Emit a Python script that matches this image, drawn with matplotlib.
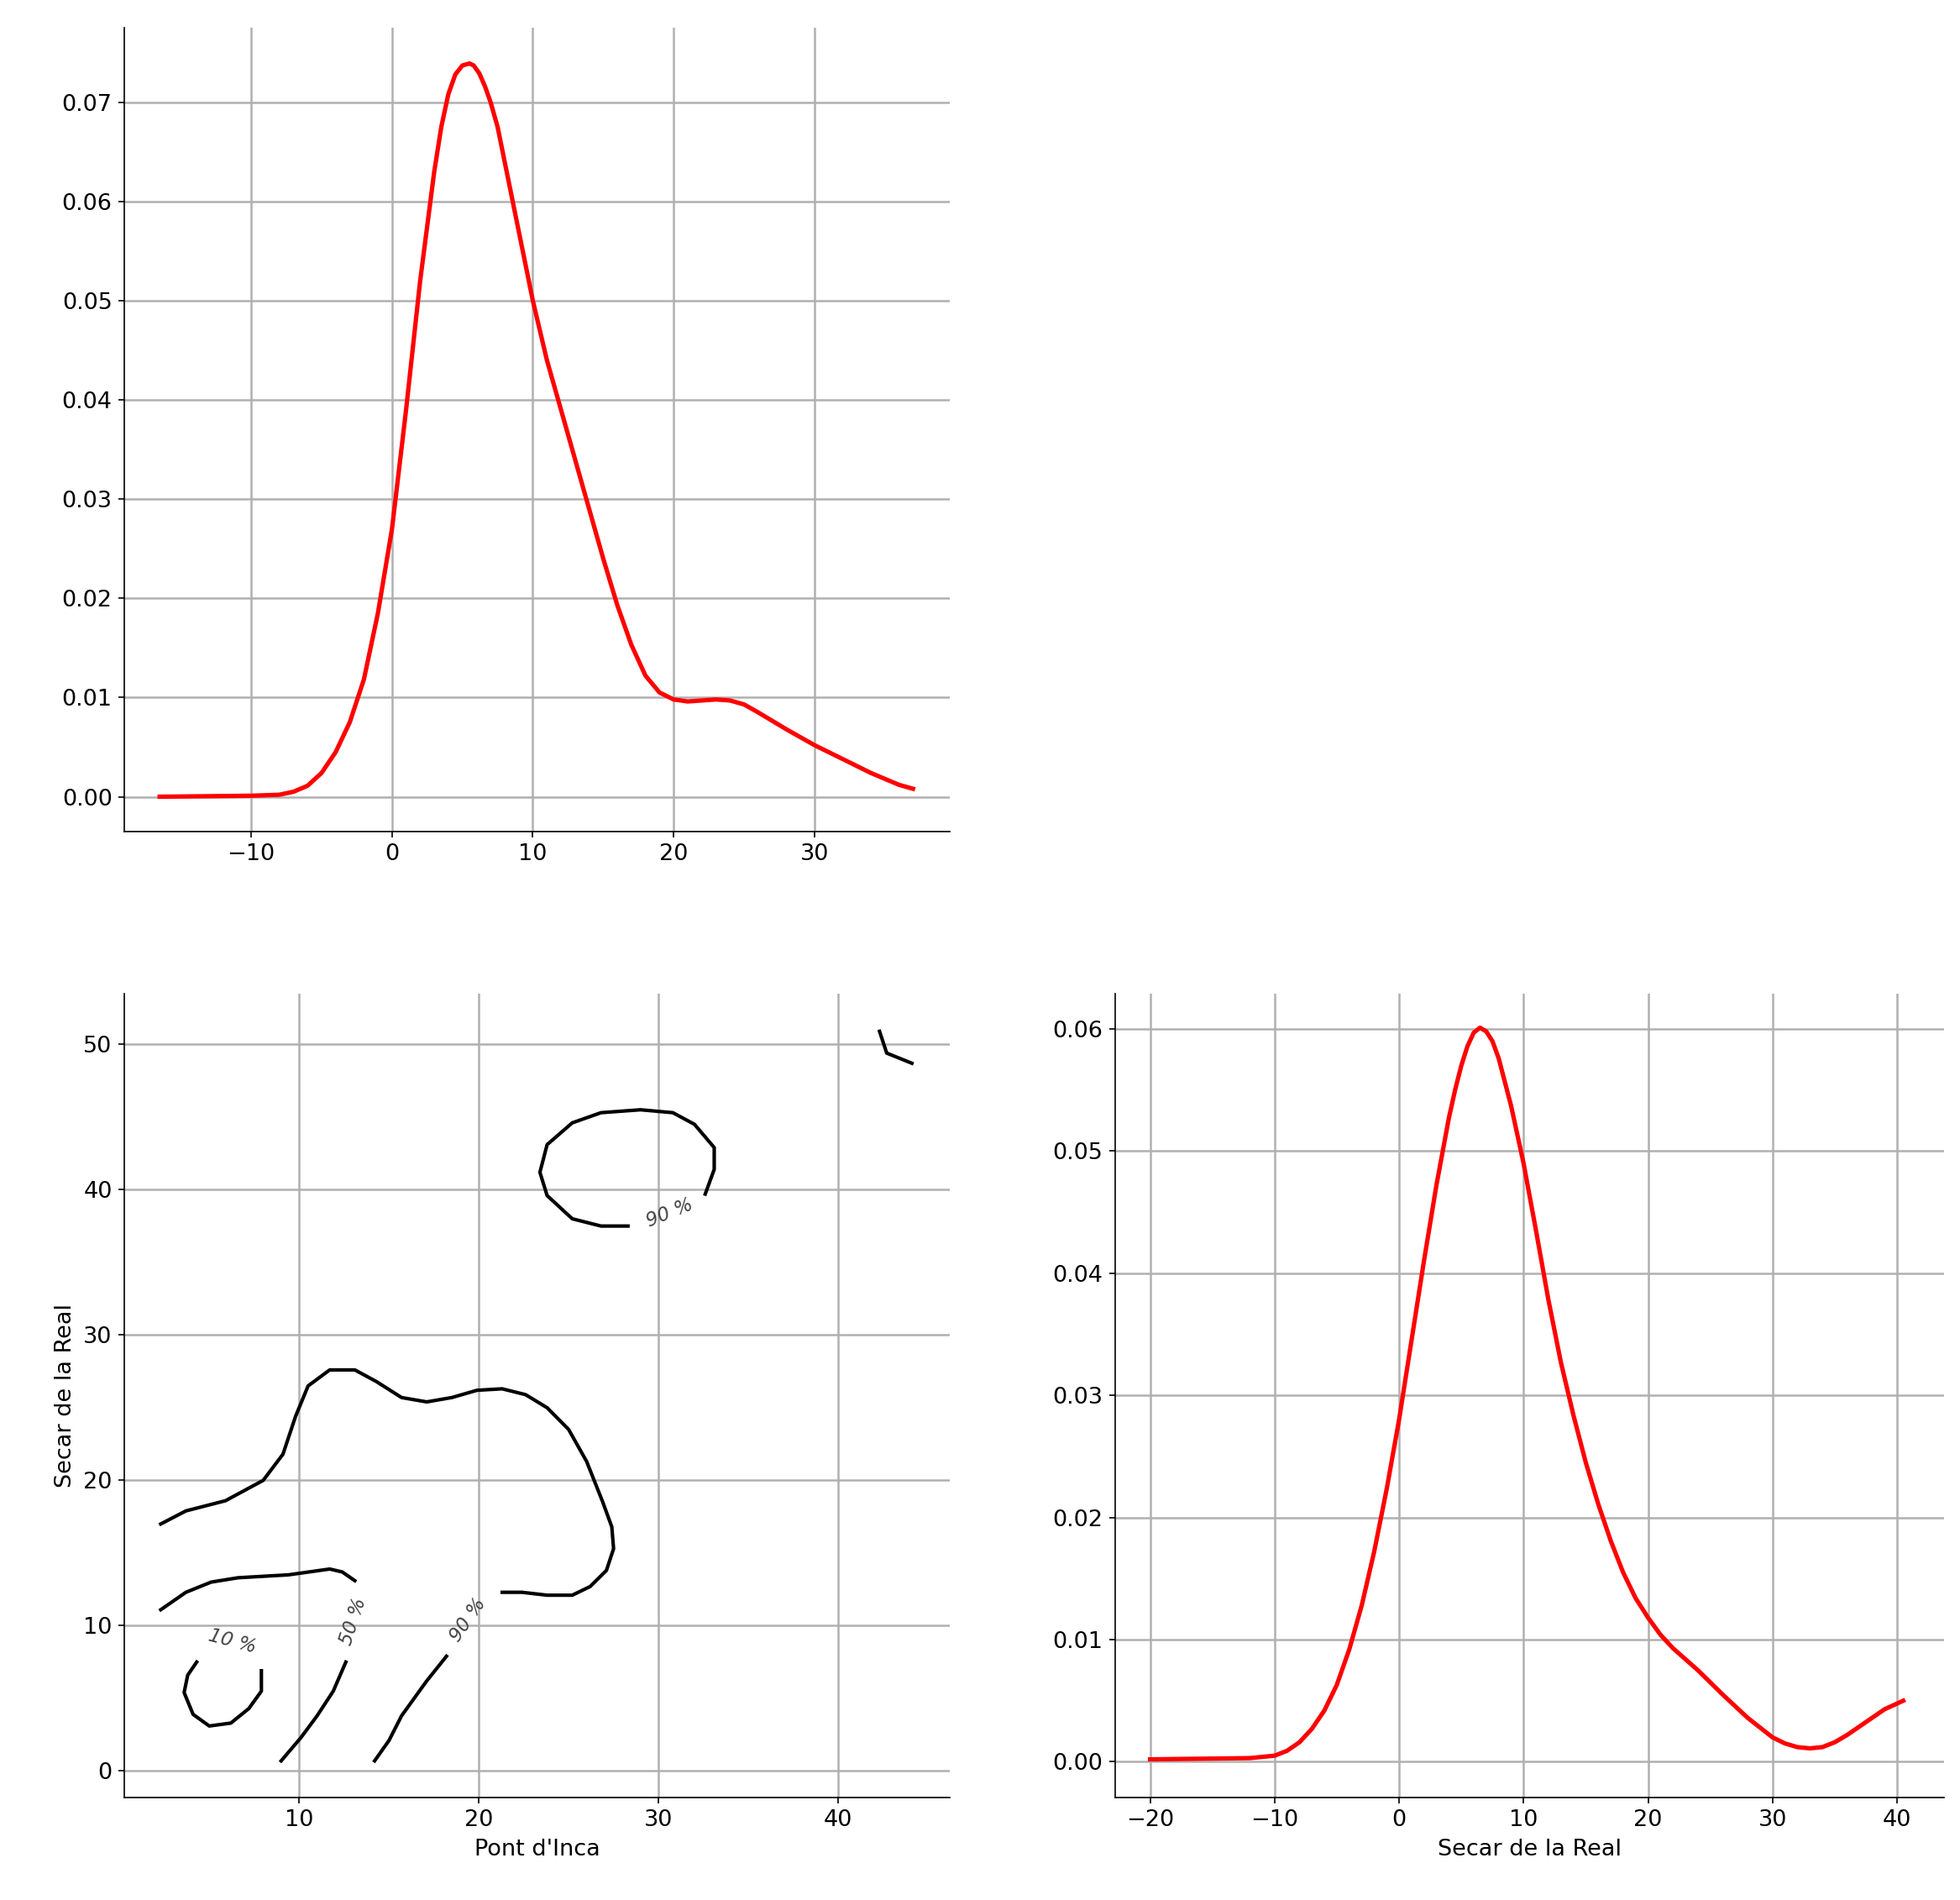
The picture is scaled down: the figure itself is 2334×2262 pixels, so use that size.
import matplotlib
matplotlib.use("Agg")
import matplotlib.pyplot as plt

# marginal density of Pont d'Inca
inca_x = [-16.5, -10, -8, -7, -6, -5, -4, -3, -2, -1, 0, 1, 2, 3, 3.5, 4, 4.5, 5, 5.5, 5.8, 6.2, 6.6,
          7, 7.5, 8, 9, 10, 11, 12, 13, 14, 15, 16, 17, 18, 19, 20, 21, 22, 23, 24, 25, 26, 28, 30, 32,
          34, 36, 37]
inca_y = [0, 0.0001, 0.0002, 0.0005, 0.0011, 0.0024, 0.0045, 0.0075, 0.0118, 0.0185, 0.027, 0.039,
          0.052, 0.063, 0.0675, 0.0708, 0.0728, 0.0737, 0.0739, 0.0737, 0.0729, 0.0716, 0.070,
          0.0675, 0.064, 0.057, 0.050, 0.0440, 0.0390, 0.0340, 0.0290, 0.0240, 0.0193, 0.0153,
          0.0122, 0.0105, 0.0098, 0.0096, 0.0097, 0.0098, 0.0097, 0.0093, 0.0085, 0.0068, 0.0052,
          0.0038, 0.0024, 0.0012, 0.0008]

# marginal density of Secar de la Real
secar_x = [-20, -12, -10, -9, -8, -7, -6, -5, -4, -3, -2, -1, 0, 1, 2, 3, 4, 4.5, 5, 5.5, 6, 6.5, 7,
           7.5, 8, 9, 10, 11, 12, 13, 14, 15, 16, 17, 18, 19, 20, 21, 22, 24, 26, 28, 30, 31, 32,
           33, 34, 35, 36, 37, 38, 39, 40.5]
secar_y = [0.0002, 0.0003, 0.0005, 0.0009, 0.0016, 0.0027, 0.0042, 0.0063, 0.0092, 0.0128, 0.0172,
           0.0223, 0.0280, 0.0345, 0.0410, 0.0472, 0.0527, 0.0550, 0.0570, 0.0586, 0.0597, 0.0601,
           0.0598, 0.0590, 0.0576, 0.0537, 0.0490, 0.0435, 0.0378, 0.0327, 0.0284, 0.0245, 0.0211,
           0.0181, 0.0155, 0.0134, 0.0118, 0.0104, 0.0093, 0.0075, 0.0055, 0.0036, 0.0020, 0.0015,
           0.0012, 0.0011, 0.0012, 0.0016, 0.0022, 0.0029, 0.0036, 0.0043, 0.0050]

# joint density contour lines
contour_paths = [
    [(2.3, 17), (3.7, 17.9), (5.9, 18.6), (8.0, 20.0), (9.1, 21.8), (9.8, 24.4), (10.5, 26.5),
     (11.7, 27.6), (13.1, 27.6), (14.3, 26.8), (15.7, 25.7), (17.1, 25.4), (18.5, 25.7),
     (19.9, 26.2), (21.3, 26.3), (22.6, 25.9), (23.8, 25.0), (25.0, 23.5), (26.0, 21.3),
     (26.9, 18.5), (27.4, 16.8), (27.5, 15.3), (27.1, 13.8), (26.2, 12.7), (25.2, 12.1),
     (23.8, 12.1), (22.4, 12.3), (21.3, 12.3)],
    [(18.2, 7.9), (17.1, 6.2), (15.7, 3.8), (15.0, 2.1), (14.2, 0.7)],
    [(2.3, 11.1), (3.7, 12.3), (5.1, 13.0), (6.6, 13.3), (9.4, 13.5), (11.7, 13.9), (12.4, 13.7),
     (13.1, 13.1)],
    [(12.6, 7.5), (11.9, 5.5), (11.0, 3.8), (10.1, 2.3), (9.0, 0.7)],
    [(4.3, 7.5), (3.8, 6.6), (3.6, 5.4), (4.1, 3.9), (5.0, 3.1), (6.2, 3.3), (7.2, 4.3),
     (7.9, 5.5), (7.9, 6.9)],
    [(28.3, 37.5), (26.8, 37.5), (25.2, 38.0), (23.8, 39.6), (23.4, 41.2), (23.8, 43.1),
     (25.2, 44.6), (26.8, 45.3), (29.0, 45.5), (30.8, 45.3), (32.0, 44.5), (33.1, 42.9),
     (33.1, 41.4), (32.6, 39.7)],
    [(42.3, 50.9), (42.7, 49.4), (44.1, 48.7)],
]
contour_labels = [("10 %", 6.3, 8.9, -15), ("50 %", 13.0, 10.3, 72),
                  ("90 %", 19.4, 10.4, 55), ("90 %", 30.6, 38.4, 22)]

plt.rcParams["font.size"] = 13
fig = plt.figure(figsize=(15.56, 15.08), dpi=150)


def style(ax):
    ax.grid(True, color="#b0b0b0", linewidth=1.2)
    ax.set_axisbelow(True)
    ax.spines["top"].set_visible(False)
    ax.spines["right"].set_visible(False)


ax1 = fig.add_axes([0.0635, 0.5624, 0.421, 0.423])
ax1.plot(inca_x, inca_y, color="red", linewidth=2.5)
ax1.set_xlim(-19.0, 39.6)
ax1.set_ylim(-0.0035, 0.0775)
ax1.set_yticks([0, 0.01, 0.02, 0.03, 0.04, 0.05, 0.06, 0.07])
ax1.set_xticks([-10, 0, 10, 20, 30])
style(ax1)

ax2 = fig.add_axes([0.0635, 0.0541, 0.421, 0.423])
for path in contour_paths:
    ax2.plot([p[0] for p in path], [p[1] for p in path], color="black", linewidth=2)
for text, x, y, rot in contour_labels:
    ax2.text(x, y, text, rotation=rot, ha="center", va="center", fontsize=11,
             color="#444444", style="italic")
ax2.set_xlim(0.28, 46.2)
ax2.set_ylim(-1.8, 53.5)
ax2.set_xticks([10, 20, 30, 40])
ax2.set_yticks([0, 10, 20, 30, 40, 50])
ax2.set_xlabel("Pont d'Inca")
ax2.set_ylabel("Secar de la Real")
style(ax2)

ax3 = fig.add_axes([0.569, 0.0541, 0.423, 0.423])
ax3.plot(secar_x, secar_y, color="red", linewidth=2.5)
ax3.set_xlim(-22.8, 43.8)
ax3.set_ylim(-0.0029, 0.0629)
ax3.set_xticks([-20, -10, 0, 10, 20, 30, 40])
ax3.set_yticks([0, 0.01, 0.02, 0.03, 0.04, 0.05, 0.06])
ax3.set_xlabel("Secar de la Real")
style(ax3)

fig.savefig("out.png", dpi=150)
plt.close(fig)
